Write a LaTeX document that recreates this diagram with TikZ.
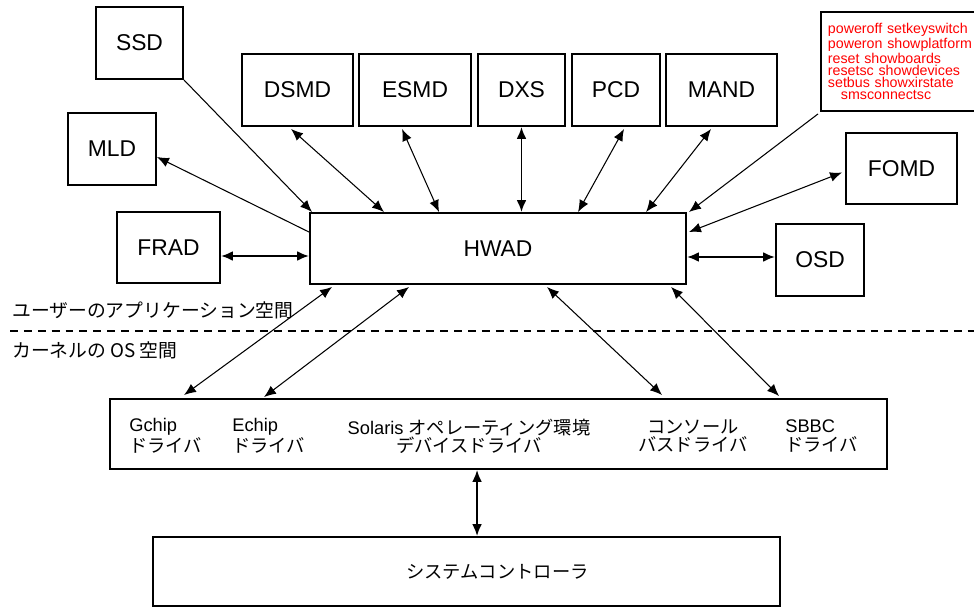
\documentclass[tikz,border=0pt]{standalone}
\usepackage{fontspec}
\setmainfont{Liberation Sans}
\newfontfamily\jp{Noto Sans CJK JP}
\usetikzlibrary{arrows.meta,calc}

\begin{document}
\begin{tikzpicture}[x=0.02cm, y=-0.02cm,
    box/.style={draw, line width=1.1pt, inner sep=0pt, font=\fontsize{13}{15}\selectfont},
    link/.style={line width=0.6pt, {Latex[length=6.8pt,width=5.6pt]}-{Latex[length=6.8pt,width=5.6pt]}},
    onelink/.style={line width=0.6pt, -{Latex[length=6.8pt,width=5.6pt]}},
    thicklink/.style={line width=1.1pt, {Latex[length=6.8pt,width=5.6pt]}-{Latex[length=6.8pt,width=5.6pt]}},
    drvtext/.style={align=left, inner sep=0pt, font=\fontsize{10.4}{10.4}\selectfont},
    spacetext/.style={anchor=west, inner sep=0pt, font=\jp\fontsize{10.7}{12}\selectfont}]

    % constants
    \def\px{0.02cm}

    \useasboundingbox (0,0) rectangle (974,608);
    \clip (0,0) rectangle (974,608);

    % user space boxes
    \node[box, minimum width=87*\px, minimum height=72*\px] (ssd) at (139.5,43) {SSD};
    \node[box, minimum width=111*\px, minimum height=72*\px] (dsmd) at (297.5,90) {DSMD};
    \node[box, minimum width=112*\px, minimum height=72*\px] (esmd) at (415,90) {ESMD};
    \node[box, minimum width=87*\px, minimum height=72*\px] (dxs) at (521.5,90) {DXS};
    \node[box, minimum width=88*\px, minimum height=72*\px] (pcd) at (616,90) {PCD};
    \node[box, minimum width=111*\px, minimum height=72*\px] (mand) at (721.5,90) {MAND};
    \node[box, minimum width=88*\px, minimum height=72*\px] (mld) at (112,149) {MLD};
    \node[box, minimum width=103*\px, minimum height=71*\px] (frad) at (168.5,247.5) {FRAD};
    \node[box, minimum width=376*\px, minimum height=71*\px] (hwad) at (498,248.5) {HWAD};
    \node[box, minimum width=111*\px, minimum height=71*\px] (fomd) at (901.5,168.5) {FOMD};
    \node[box, minimum width=88*\px, minimum height=72*\px] (osd) at (820,260) {OSD};

    % command list (box runs off the right edge)
    \node[box, anchor=north west, text width=160*\px, minimum height=99*\px,
          align=left, inner xsep=7*\px, text=red, font=\fontsize{8.1}{6.9}\selectfont]
          (cmds) at (820,11) {poweroff setkeyswitch\\ poweron showplatform\\ reset showboards\\
          resetsc showdevices\\ setbus showxirstate\\ \hspace*{7.4pt}smsconnectsc};

    % user / kernel boundary
    \draw[line width=1.1pt, dash pattern=on 4.5pt off 3.4pt] (10,331) -- (974,331);
    \node[spacetext] (userlbl) at (12,310) {ユーザーのアプリケーション空間};
    \node[spacetext] (kernlbl) at (12,350) {カーネルの OS 空間};

    % kernel drivers
    \node[box, minimum width=777*\px, minimum height=70*\px] (drv) at (498.5,434) {};
    \node[drvtext, anchor=west] (gchip) at (129,436) {Gchip\\{\jp ドライバ}};
    \node[drvtext, anchor=west] (echip) at (232,436) {Echip\\{\jp ドライバ}};
    \node[drvtext, align=center] (solaris) at (469,436) {Solaris {\jp オペレーティング環境}\\{\jp デバイスドライバ}};
    \node[drvtext, align=center] (console) at (693,436) {{\jp コンソール}\\{\jp バスドライバ}};
    \node[drvtext, anchor=west] (sbbc) at (785,436) {SBBC\\{\jp ドライバ}};

    \node[box, minimum width=627*\px, minimum height=69*\px, font=\jp\fontsize{10.4}{12}\selectfont]
          (sys) at (466.5,571.5) {\hspace*{1.24cm}システムコントローラ};

    % links to HWAD
    \draw[onelink] (ssd.south east) -- ($(hwad.north west)+(3,0)$);
    \draw[onelink] ($(hwad.north west)+(0,20)$) -- ($(mld.east)+(0,8)$);
    \draw[link] ($(dsmd.south west)+(50,2)$) -- ($(hwad.north west)+(75,0)$);
    \draw[link] ($(esmd.south west)+(44,2)$) -- ($(hwad.north west)+(130,0)$);
    \draw[thicklink] (dxs.south) -- (dxs.south |- hwad.north);
    \draw[link] ($(pcd.south west)+(53,2)$) -- ($(hwad.north west)+(269,0)$);
    \draw[link] ($(mand.south west)+(46,2)$) -- ($(hwad.north west)+(337,0)$);
    \draw[onelink] ($(cmds.south west)+(-2,2)$) -- ($(hwad.north east)+(2,0)$);
    \draw[link] ($(fomd.west)+(-3,4)$) -- ($(hwad.north east)+(2,20)$);
    \draw[thicklink] ($(hwad.east)+(0,8.5)$) -- ($(osd.west)+(0,-3)$);
    \draw[thicklink] ($(frad.east)+(0,8.5)$) -- ($(hwad.west)+(0,7.5)$);

    % links to kernel drivers
    \draw[link] ($(hwad.south west)+(23,2)$) -- ($(drv.north west)+(75,-3)$);
    \draw[link] ($(hwad.south west)+(100,2)$) -- ($(drv.north west)+(155,-1)$);
    \draw[link] ($(hwad.south west)+(238,2)$) -- ($(drv.north west)+(553,-3)$);
    \draw[link] ($(hwad.south west)+(362,2)$) -- ($(drv.north west)+(670,-2)$);
    \draw[thicklink] ($(drv.south west)+(368,0)$) -- ($(sys.north west)+(325,0)$);

\end{tikzpicture}
\end{document}
